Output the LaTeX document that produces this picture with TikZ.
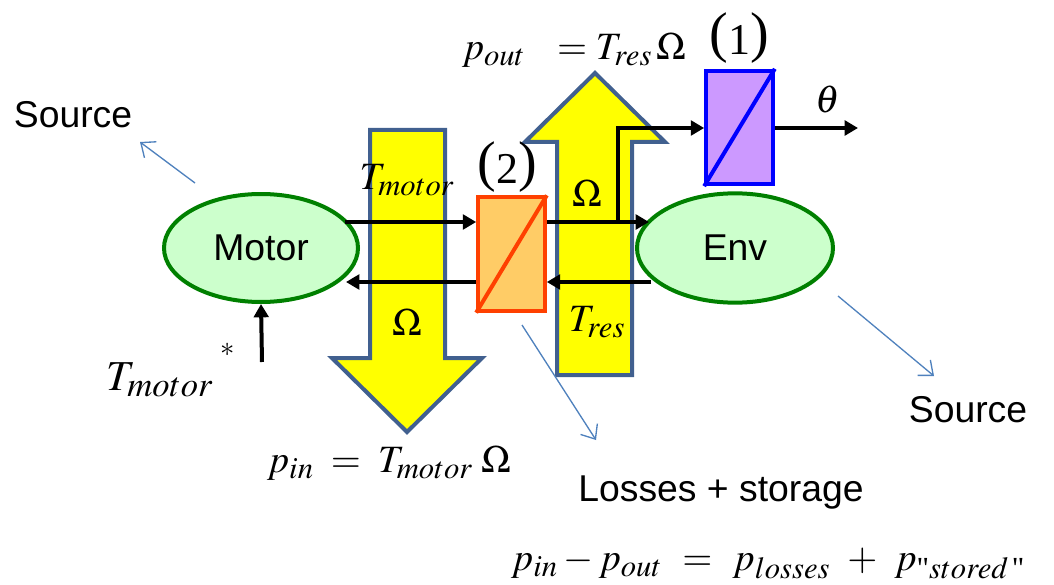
\documentclass[tikz,border=0pt]{standalone}
\usepackage{amsmath}
\usepackage{mathptmx}
\usepackage[no-math]{fontspec}
\newfontfamily\arialf{Liberation Sans}
\newfontfamily\timesf{Liberation Serif}
\newcommand\sbx[2]{_{\mbox{\fontsize{#1}{#1}\selectfont$#2$}}}
\newcommand\bnum[1]{{\timesf\fontsize{42}{42}\selectfont\raisebox{2.5pt}{(}}{\timesf\fontsize{33}{33}\selectfont #1}{\timesf\fontsize{42}{42}\selectfont\raisebox{2.5pt}{)}}}
\usetikzlibrary{arrows.meta,shapes.geometric}
\definecolor{yel}{HTML}{FFFF00}
\definecolor{yelb}{HTML}{41608F}
\definecolor{ellf}{HTML}{CCFFCC}
\definecolor{ellb}{HTML}{008000}
\definecolor{orf}{HTML}{FFCC66}
\definecolor{orb}{HTML}{FF4000}
\definecolor{puf}{HTML}{CC99FF}
\definecolor{pub}{HTML}{0000FF}
\definecolor{thin}{HTML}{4F81BD}
\tikzset{
  flow/.style={fill=yel,draw=yelb,line width=3pt,line join=miter},
  ell/.style={ellipse,fill=ellf,draw=ellb,line width=3pt,font=\arialf\fontsize{28}{31}\selectfont},
  conv/.style={rectangle,line width=3pt,inner sep=0pt},
  sig/.style={line width=3pt,-{Triangle[length=10pt,width=11pt]}},
  thinarrow/.style={draw=thin,line width=1pt,-{Straight Barb[length=9pt,width=15pt,line width=1pt]}},
  lab/.style={font=\arialf\fontsize{28}{31}\selectfont,inner sep=0pt},
  mth/.style={font=\fontsize{29}{32}\selectfont,inner sep=0pt},
  mthb/.style={font=\fontsize{32}{35}\selectfont,inner sep=0pt},
  numlab/.style={inner sep=0pt,anchor=base}
}
\begin{document}
\begin{tikzpicture}[x=0.75pt,y=-0.75pt]
\useasboundingbox (0,0) rectangle (1054,585);
% yellow power arrows
\path[flow] (370,130) -- (445,130) -- (445,358) -- (482,358) -- (407,432) -- (332,358) -- (370,358) -- cycle;
\path[flow] (557,375) -- (632,375) -- (632,142) -- (665,142) -- (595,73) -- (525,142) -- (557,142) -- cycle;
% nodes
\node[ell,minimum width=145.5pt,minimum height=81pt] (motor) at (261,248) {Motor};
\node[ell,minimum width=147pt,minimum height=82pt] (env) at (735,248) {Env};
\node[conv,fill=orf,draw=orb,minimum width=50pt,minimum height=85pt] (b2) at (511.5,254) {};
\draw[orb,line width=3pt] (b2.south west) -- (b2.north east);
\node[conv,fill=puf,draw=pub,minimum width=50pt,minimum height=85pt] (b1) at (739.5,127.5) {};
\draw[pub,line width=3pt] (b1.south west) -- (b1.north east);
% connector coordinates
\coordinate (m1) at (345,222);
\coordinate (m2) at (346,282);
\coordinate (e1) at (649,222);
\coordinate (e2) at (651,282);
\coordinate (br) at (618,222);
\coordinate (th) at (858,128);
\coordinate (tstar) at (262,362);
% signal arrows
\draw[sig] (m1) -- (m1 -| b2.west);
\draw[sig] (e1 -| b2.east) -- (e1);
\draw[sig] (e2) -- (e2 -| b2.east);
\draw[sig] (m2 -| b2.west) -- (m2);
\draw[sig] (br) -- (br |- th) -- (th -| b1.west);
\draw[sig] (th -| b1.east) -- (th);
\draw[sig] (tstar) -- (motor.south);
% thin arrows
\coordinate (s1) at (140,142);
\coordinate (s2) at (934,376);
\coordinate (ls) at (596,440);
\draw[thinarrow] (195,183) -- (s1);
\draw[thinarrow] (838,296) -- (s2);
\draw[thinarrow] (522,325) -- (ls);
% labels
\node[lab] (src1) at (73,115) {Source};
\node[lab] (src2) at (968,410) {Source};
\node[lab] (loss) at (721,493) {Losses + storage};
\node[mth] (theta) at (828,100) {$\theta$};
\node[mth] (tm) at (407,180) {$T\sbx{23}{motor}$};
\node[numlab] (n2) at (507,184) {\bnum{2}};
\node[numlab] (n1) at (739,55) {\bnum{1}};
\node[mth] (om1) at (587,193) {$\Omega$};
\node[mth] (om2) at (407,322) {$\Omega$};
\node[mth] (tr) at (597,322) {$T\sbx{23}{res}$};
\node[mth] (pout) at (574,50) {$p\sbx{23}{out}\ \ = T\sbx{23}{res}\,\Omega$};
\node[mth] (pin) at (389,463) {$p\sbx{23}{in}\;=\;T\sbx{23}{motor}\;\Omega$};
\node[mthb] (tms) at (160,380) {$T\sbx{26}{motor}$};
\node[mth] (star) at (228,357) {$^{*}$};
\node[mth] (eq) at (768,563) {$p\sbx{23}{in}-p\sbx{23}{out}\ =\ p\sbx{23}{losses}\ +\ p\sbx{23}{\text{\timesf"}stored\,\text{\timesf"}}$};
\end{tikzpicture}
\end{document}
